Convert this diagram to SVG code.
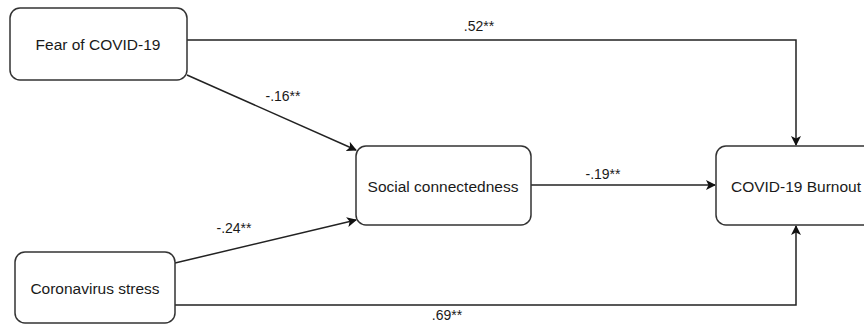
<svg xmlns="http://www.w3.org/2000/svg" width="864" height="324" viewBox="0 0 864 324">
<style>
.box{fill:#fff;stroke:#333;stroke-width:1.5}
.lbl{font-family:"Liberation Sans",Arial,sans-serif;font-size:15.5px;fill:#1a1a1a;text-anchor:middle;dominant-baseline:central}
.edge{fill:none;stroke:#222;stroke-width:1.5}
.el{font-family:"Liberation Sans",Arial,sans-serif;font-size:14px;fill:#1a1a1a;text-anchor:middle}
</style>
<defs>
<marker id="arr" viewBox="0 0 10 10" refX="9" refY="5" markerWidth="10" markerHeight="10" markerUnits="userSpaceOnUse" orient="auto">
<path d="M0,0 L10,5 L0,10 L2.5,5 z" fill="#111"/>
</marker>
</defs>
<rect width="864" height="324" fill="#fff"/>
<g id="connectors">
<polyline class="edge" points="187,40 796,40 796,145" marker-end="url(#arr)"/>
<polyline class="edge" points="175,305 796,305 796,226" marker-end="url(#arr)"/>
<line class="edge" x1="187" y1="75" x2="356" y2="150" marker-end="url(#arr)"/>
<line class="edge" x1="175" y1="263" x2="356" y2="220" marker-end="url(#arr)"/>
<line class="edge" x1="531" y1="185" x2="715" y2="185" marker-end="url(#arr)"/>
<text class="el" x="479" y="31">.52**</text>
<text class="el" x="283" y="101">-.16**</text>
<text class="el" x="603" y="179">-.19**</text>
<text class="el" x="234" y="233">-.24**</text>
<text class="el" x="447" y="320">.69**</text>
</g>
<g id="fear">
<rect class="box" x="10" y="8" width="177" height="72" rx="10"/>
<text class="lbl" x="98" y="44">Fear of COVID-19</text>
</g>
<g id="social">
<rect class="box" x="356" y="146" width="175" height="79" rx="10"/>
<text class="lbl" x="443" y="186">Social connectedness</text>
</g>
<g id="burnout">
<rect class="box" x="716" y="146" width="160" height="79" rx="10"/>
<text class="lbl" x="796" y="186">COVID-19 Burnout</text>
</g>
<g id="stress">
<rect class="box" x="15" y="252" width="160" height="71" rx="10"/>
<text class="lbl" x="95" y="288">Coronavirus stress</text>
</g>
</svg>
